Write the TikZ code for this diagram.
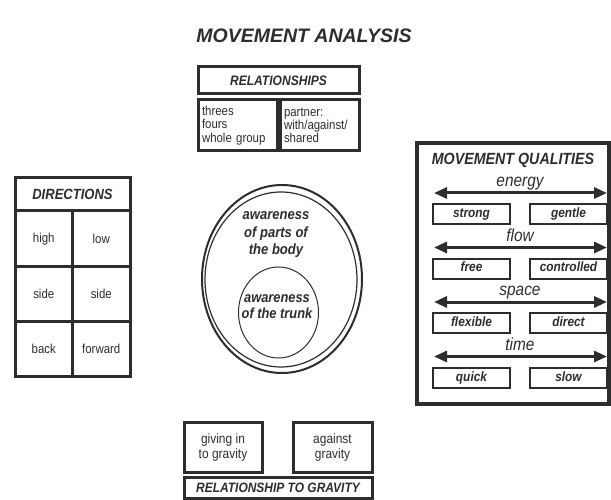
\documentclass[tikz,border=0pt]{standalone}
\usepackage{fontspec}
\setmainfont{Liberation Sans}
\newfontfamily\narrowsans[FakeStretch=0.88]{Liberation Sans}
\usetikzlibrary{positioning,arrows.meta}
\definecolor{ink}{RGB}{45,45,45}
\begin{document}
\begin{tikzpicture}[x=1pt, y=-1pt,
    every node/.style={text=ink, outer sep=0pt},
    head/.style={draw=ink, line width=3pt, inner sep=0pt, font=\narrowsans\bfseries\itshape\fontsize{13.7}{15}\selectfont},
    plain/.style={draw=ink, line width=3pt, inner sep=0pt, font=\narrowsans\fontsize{13}{13.3}\selectfont},
    listbox/.style={plain, minimum height=51pt, text width=71pt, align=left, inner xsep=4pt},
    cell/.style={plain, minimum width=57.5pt, minimum height=55.3pt},
    quality/.style={draw=ink, line width=2pt, minimum width=77pt, minimum height=20pt, inner sep=0pt, text height=9.5pt, text depth=2.5pt, font=\narrowsans\bfseries\itshape\fontsize{13.5}{15}\selectfont},
    pole/.style={draw=ink, line width=3pt, {Triangle[length=13pt,width=11pt]}-{Triangle[length=13pt,width=11pt]}}]
        \useasboundingbox (0,0) rectangle (611,500);
        \node[font=\bfseries\itshape\fontsize{19.5}{21}\selectfont] (title) at (304,36) {MOVEMENT ANALYSIS};
        % relationships
        \node[head, minimum width=161pt, minimum height=27pt] (rel) at (278.5,80.5) {RELATIONSHIPS};
        \node[listbox] (groups) at (237.5,125.5) {threes\\fours\\whole group};
        \node[listbox] (partner) at (319.5,125.5) {partner:\\with/against/\\shared};
        % directions
        \node[head, font=\narrowsans\bfseries\itshape\fontsize{14.8}{16}\selectfont, minimum width=115pt, minimum height=33pt] (dirs) at (72.5,194.5) {DIRECTIONS};
        \node[cell, below right=0pt and 0pt of dirs.south west] (high) {high};
        \node[cell, right=0pt of high] (low) {low};
        \node[cell, below=0pt of high] (sideleft) {side};
        \node[cell, below=0pt of low] (sideright) {side};
        \node[cell, below=0pt of sideleft] (back) {back};
        \node[cell, below=0pt of sideright] (forward) {forward};
        % body
        \draw[ink, line width=2pt] (282,279) ellipse [x radius=80, y radius=94];
        \draw[ink, line width=1.2pt] (281,279.5) ellipse [x radius=76, y radius=87.5];
        \draw[ink, line width=1pt] (278.5,312.5) ellipse [x radius=40, y radius=45.5];
        \node[align=center, font=\narrowsans\bfseries\itshape\fontsize{14.8}{17.5}\selectfont] (parts) at (276,235) {awareness\\of parts of\\the body};
        \node[align=center, font=\narrowsans\bfseries\itshape\fontsize{14.6}{16}\selectfont] (trunk) at (277,307) {awareness\\of the trunk};
        % qualities
        \node[draw=ink, line width=4pt, minimum width=192pt, minimum height=261pt] (qual) at (513,273.5) {};
        \node[font=\narrowsans\bfseries\itshape\fontsize{16.2}{18}\selectfont] (qtitle) at (513,160) {MOVEMENT QUALITIES};
        \foreach \q/\a/\b [count=\i from 0] in {energy/strong/gentle, flow/free/controlled, space/flexible/direct, time/quick/slow} {
          \node[anchor=base, font=\narrowsans\itshape\fontsize{17.5}{19}\selectfont] (q\i) at (520,186.5+54.5*\i) {\q};
          \coordinate (l\i) at (434,193+54.5*\i);
          \coordinate (r\i) at (607,193+54.5*\i);
          \draw[pole] (l\i) -- (r\i);
          \node[quality] (a\i) at (471.5,214+54.5*\i) {\a};
          \node[quality] (b\i) at (568.5,214+54.5*\i) {\b};
        }
        % gravity
        \node[plain, font=\narrowsans\fontsize{13.6}{15}\selectfont, minimum width=78pt, minimum height=50pt, align=center] (givein) at (223,447) {giving in\\to gravity};
        \node[plain, font=\narrowsans\fontsize{13.6}{15}\selectfont, minimum width=79pt, minimum height=50pt, align=center] (against) at (332.5,447) {against\\gravity};
        \node[head, font=\narrowsans\bfseries\itshape\fontsize{13.6}{15}\selectfont, minimum width=188pt, minimum height=21pt] (gravity) at (278,487.5) {RELATIONSHIP TO GRAVITY};
      \end{tikzpicture}
\end{document}
